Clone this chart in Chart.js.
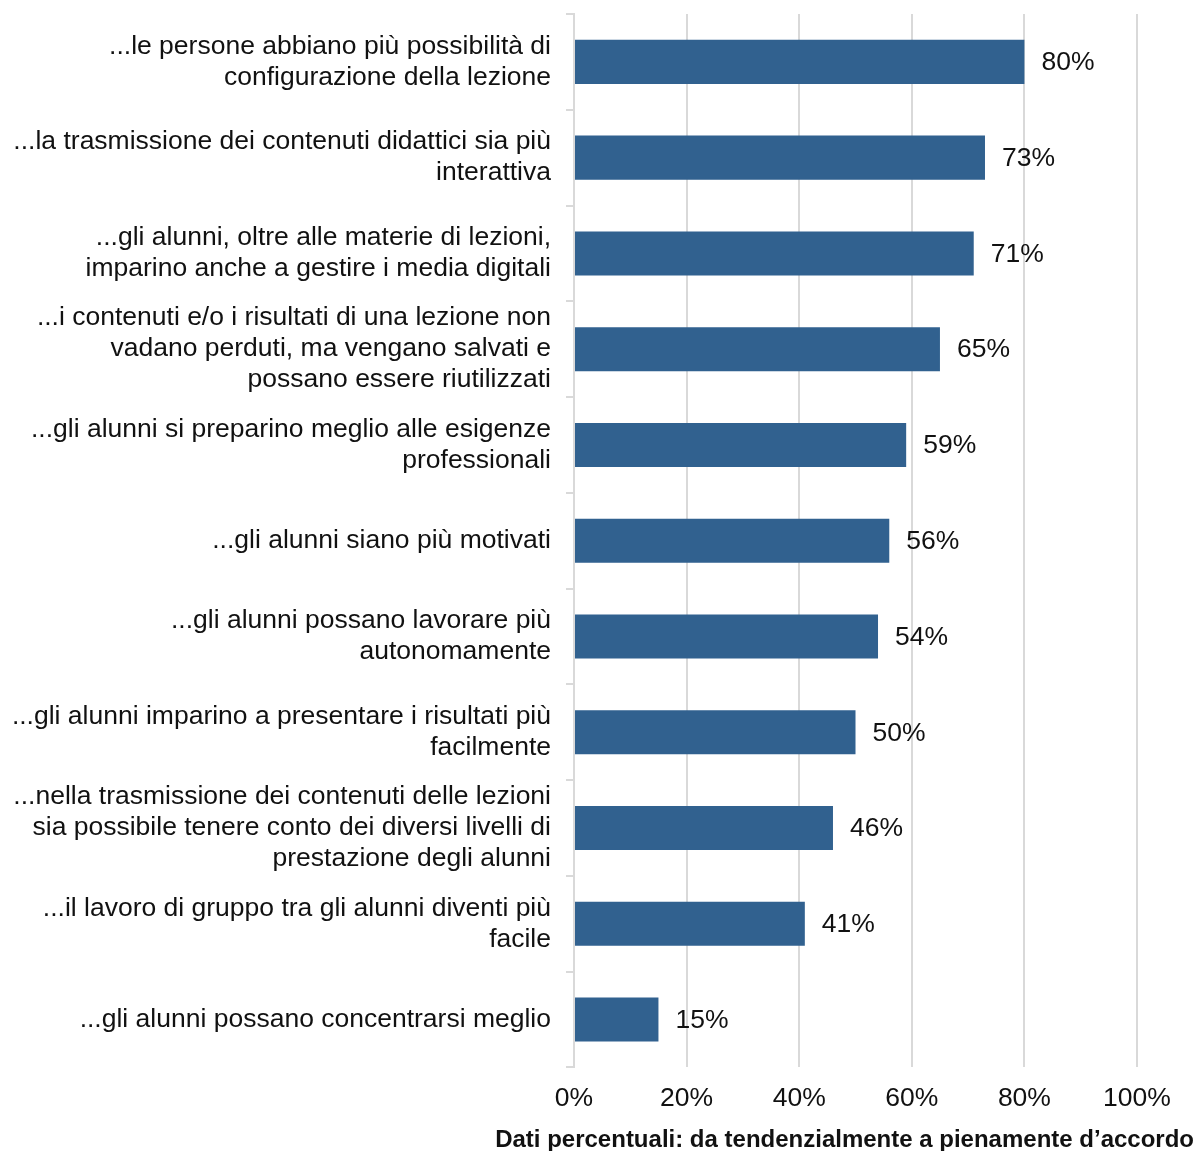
<!DOCTYPE html>
<html lang="it">
<head>
<meta charset="UTF-8">
<title>Lezioni digitali</title>
<script src="https://cdn.jsdelivr.net/npm/chart.js"></script>
<style>
    body { margin: 0; background: #fff; }
    #wrap { width: 1194px; height: 1151px; }
</style>
</head>
<body>
<div id="wrap"><canvas id="chart"></canvas></div>
<script>
const labels = [
    ['...le persone abbiano più possibilità di', 'configurazione della lezione'],
    ['...la trasmissione dei contenuti didattici sia più', 'interattiva'],
    ['...gli alunni, oltre alle materie di lezioni,', 'imparino anche a gestire i media digitali'],
    ['...i contenuti e/o i risultati di una lezione non', 'vadano perduti, ma vengano salvati e', 'possano essere riutilizzati'],
    ['...gli alunni si preparino meglio alle esigenze', 'professionali'],
    '...gli alunni siano più motivati',
    ['...gli alunni possano lavorare più', 'autonomamente'],
    ['...gli alunni imparino a presentare i risultati più', 'facilmente'],
    ['...nella trasmissione dei contenuti delle lezioni', 'sia possibile tenere conto dei diversi livelli di', 'prestazione degli alunni'],
    ['...il lavoro di gruppo tra gli alunni diventi più', 'facile'],
    '...gli alunni possano concentrarsi meglio'
];
const values = [80, 73, 71, 65, 59, 56, 54, 50, 46, 41, 15];
const xTitle = 'Dati percentuali: da tendenzialmente a pienamente d\u2019accordo';

const FONT = '"Liberation Sans", Arial, sans-serif';
const GRID = '#d9d9d9';
const TEXT = '#111';

// value labels to the right of each bar
const valueLabels = {
    id: 'valueLabels',
    afterDatasetsDraw(chart) {
        const ctx = chart.ctx;
        const meta = chart.getDatasetMeta(0);
        ctx.save();
        ctx.font = '26.5px ' + FONT;
        ctx.fillStyle = TEXT;
        ctx.textAlign = 'left';
        ctx.textBaseline = 'middle';
        meta.data.forEach((bar, i) => {
            ctx.fillText(values[i] + '%', bar.x + 17, bar.y + 1);
        });
        ctx.restore();
    }
};

new Chart(document.getElementById('chart'), {
    type: 'bar',
    data: {
        labels: labels,
        datasets: [{
            data: values,
            backgroundColor: '#31618f',
            barPercentage: 0.46,
            categoryPercentage: 1
        }]
    },
    options: {
        indexAxis: 'y',
        responsive: true,
        maintainAspectRatio: false,
        animation: false,
        layout: { padding: { top: 14, left: 0, right: 0, bottom: 0 } },
        plugins: {
            legend: { display: false },
            tooltip: { enabled: false },
            title: {
                display: true,
                text: xTitle,
                position: 'bottom',
                align: 'end',
                color: TEXT,
                font: { family: FONT, size: 24, weight: 'bold' },
                padding: { top: -3, bottom: -4 }
            }
        },
        scales: {
            x: {
                min: 0,
                max: 100,
                ticks: {
                    stepSize: 20,
                    color: TEXT,
                    font: { family: FONT, size: 26.5 },
                    padding: 15,
                    callback: v => v + '%'
                },
                grid: { color: GRID, lineWidth: 2, drawTicks: false },
                border: { display: false },
                afterFit(scale) { scale.paddingRight = 57; }
            },
            y: {
                ticks: {
                    autoSkip: false,
                    color: TEXT,
                    font: { family: FONT, size: 26.5, lineHeight: 1.17 },
                    padding: 15
                },
                grid: {
                    offset: true,
                    drawOnChartArea: false,
                    color: GRID,
                    lineWidth: 2,
                    tickLength: 8
                },
                border: { color: GRID, width: 2 },
                afterFit(scale) {
                    scale.width = 574;
                    scale.paddingTop = 0;
                    scale.paddingBottom = 0;
                }
            }
        }
    },
    plugins: [valueLabels]
});
</script>
</body>
</html>
